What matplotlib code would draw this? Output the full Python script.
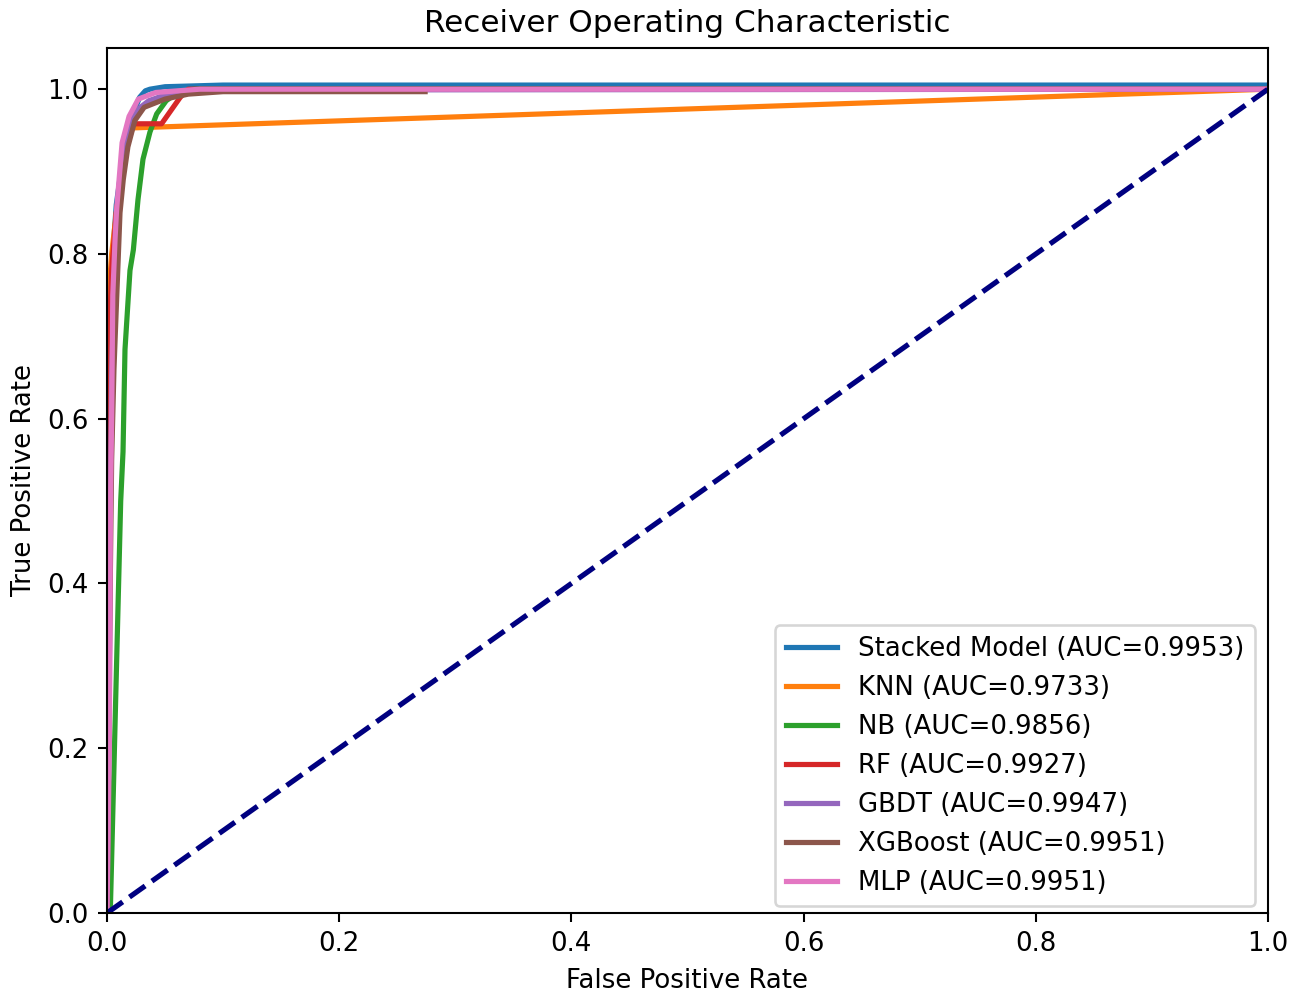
import matplotlib
matplotlib.use("Agg")
import matplotlib.pyplot as plt

# ROC curve data (FPR, TPR)
stacked_fpr = [0.0, 0.001, 0.002, 0.003, 0.005, 0.008, 0.011, 0.014, 0.0198, 0.024, 0.028, 0.033, 0.037, 0.05, 0.1, 1.0]
stacked_tpr = [0.0, 0.45, 0.62, 0.72, 0.80, 0.86, 0.89, 0.915, 0.955, 0.975, 0.99, 0.998, 1.0, 1.003, 1.005, 1.005]

knn_fpr = [0.0, 0.0, 0.004, 0.008, 0.012, 0.017, 0.022, 1.0]
knn_tpr = [0.0, 0.72, 0.80, 0.85, 0.89, 0.93, 0.953, 1.0]

nb_fpr = [0.0, 0.003, 0.0118, 0.0138, 0.0155, 0.018, 0.0198, 0.0227, 0.0267, 0.031, 0.037, 0.0428, 0.051, 0.057, 0.065, 0.075, 1.0]
nb_tpr = [0.0, 0.01, 0.50, 0.56, 0.684, 0.74, 0.78, 0.805, 0.866, 0.915, 0.948, 0.97, 0.986, 0.992, 0.997, 1.0, 1.0]

rf_fpr = [0.0, 0.0, 0.004, 0.008, 0.012, 0.017, 0.022, 0.047, 0.063, 0.07, 1.0]
rf_tpr = [0.0, 0.62, 0.78, 0.85, 0.89, 0.93, 0.958, 0.958, 0.99, 1.0, 1.0]

gbdt_fpr = [0.0, 0.002, 0.003, 0.004, 0.006, 0.009, 0.014, 0.019, 0.026, 0.036, 0.05, 0.08, 1.0]
gbdt_tpr = [0.0, 0.25, 0.5, 0.65, 0.76, 0.85, 0.92, 0.955, 0.975, 0.986, 0.993, 0.999, 1.0]

xgb_fpr = [0.0, 0.002, 0.004, 0.006, 0.0083, 0.0112, 0.014, 0.018, 0.024, 0.032, 0.05, 0.07, 0.1, 0.274]
xgb_tpr = [0.0, 0.3, 0.55, 0.66, 0.745, 0.85, 0.89, 0.93, 0.962, 0.978, 0.988, 0.994, 0.997, 0.997]

mlp_fpr = [0.0, 0.002, 0.003, 0.004, 0.005, 0.007, 0.0083, 0.013, 0.019, 0.027, 0.042, 0.08, 1.0]
mlp_tpr = [0.0, 0.2, 0.5, 0.6, 0.75, 0.82, 0.854, 0.935, 0.967, 0.988, 0.996, 1.0, 1.0]

names = ["Stacked Model", "KNN", "NB", "RF", "GBDT", "XGBoost", "MLP"]
aucs = ["0.9953", "0.9733", "0.9856", "0.9927", "0.9947", "0.9951", "0.9951"]
colors = ["#1f77b4", "#ff7f0e", "#2ca02c", "#d62728", "#9467bd", "#8c564b", "#e377c2"]

curves = [(stacked_fpr, stacked_tpr), (knn_fpr, knn_tpr), (nb_fpr, nb_tpr),
          (rf_fpr, rf_tpr), (gbdt_fpr, gbdt_tpr), (xgb_fpr, xgb_tpr), (mlp_fpr, mlp_tpr)]

DPI = 187
fig = plt.figure(figsize=(1304 / DPI, 991 / DPI), dpi=DPI)
ax = fig.add_axes([107 / 1304, 78 / 991, 1161 / 1304, 865 / 991])

for (fx, ty), name, auc, c in zip(curves, names, aucs, colors):
    ax.plot(fx, ty, color=c, lw=2, label=f"{name} (AUC={auc})")

ax.plot([0, 1], [0, 1], color="navy", lw=2, linestyle="--")
ax.set_xlim(0, 1)
ax.set_ylim(0, 1.05)
ax.set_xlabel("False Positive Rate", fontsize=10)
ax.set_ylabel("True Positive Rate", fontsize=10)
ax.set_title("Receiver Operating Characteristic", fontsize=12)
ax.tick_params(labelsize=10)
ax.legend(loc="lower right", fontsize=10, bbox_to_anchor=(1.0, -0.007))

fig.savefig("out.png", dpi=DPI)
